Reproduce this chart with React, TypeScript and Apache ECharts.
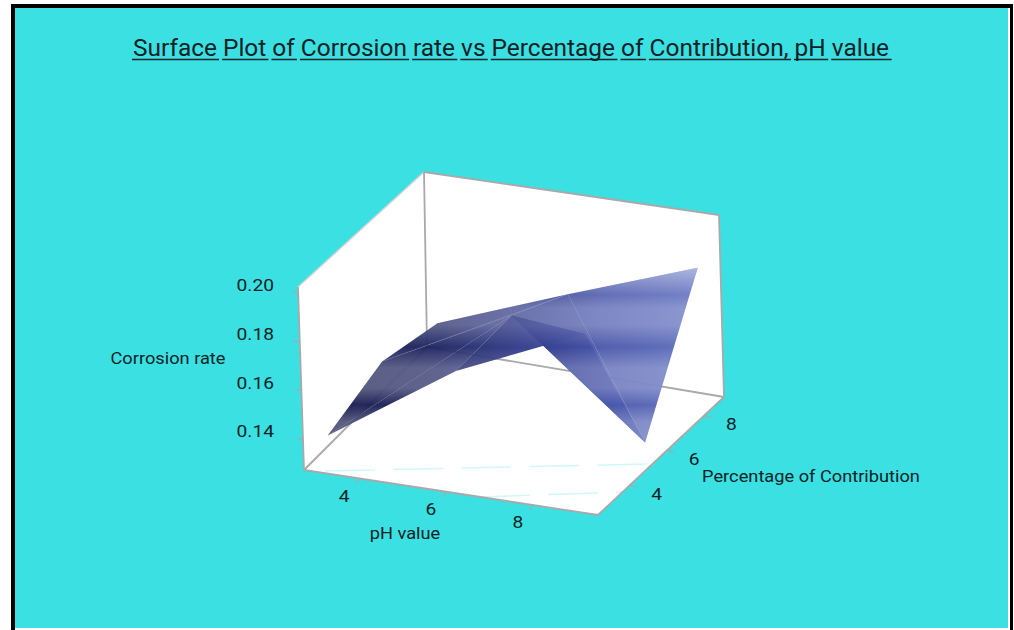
import React, { useEffect, useRef } from "react";
import * as echarts from "echarts";

const titleText = "Surface Plot of Corrosion rate vs Percentage of Contribution, pH value";
const phValues = [3, 6, 9];
const contributionValues = [3, 6, 9];
// rows: pH value, columns: percentage of contribution
const corrosionPh3 = [0.137, 0.1453, 0.1387];
const corrosionPh6 = [0.171, 0.1726, 0.16];
const corrosionPh9 = [0.193, 0.129, 0.1795];
const phTicks = [4, 6, 8];
const contributionTicks = [4, 6, 8];
const rateTicks = ["0.14", "0.16", "0.18", "0.20"];
const axisNames = ["pH value", "Percentage of Contribution", "Corrosion rate"];

const PH_RANGE = [2.73, 9.5];
const CON_RANGE = [2.3, 9.05];
const RATE_RANGE = [0.1273, 0.2022];

// Screen position of the eight corners of the plotting box
const CORNERS = {
  floor: { fl: [304, 470], fr: [598, 515], bl: [427, 347], br: [724, 397] },
  top: { fl: [298, 287], fr: [593, 325], bl: [424, 172], br: [719, 215] },
};

function project(ph: number, con: number, rate: number): number[] {
  const u = (ph - PH_RANGE[0]) / (PH_RANGE[1] - PH_RANGE[0]);
  const v = (con - CON_RANGE[0]) / (CON_RANGE[1] - CON_RANGE[0]);
  const w = (rate - RATE_RANGE[0]) / (RATE_RANGE[1] - RATE_RANGE[0]);
  const bil = (c: any, k: number) =>
    (1 - u) * (1 - v) * c.fl[k] + u * (1 - v) * c.fr[k] + (1 - u) * v * c.bl[k] + u * v * c.br[k];
  return [0, 1].map((k) => (1 - w) * bil(CORNERS.floor, k) + w * bil(CORNERS.top, k));
}

const rates = [corrosionPh3, corrosionPh6, corrosionPh9];
// triangles as [pH index, contribution index] triples, painted back to front
const triangles = [
  [[0, 1], [1, 2], [0, 2]],
  [[0, 1], [1, 1], [1, 2]],
  [[1, 1], [2, 1], [1, 2]],
  [[2, 1], [2, 2], [1, 2]],
  [[1, 1], [2, 0], [2, 1]],
  [[0, 0], [1, 0], [1, 1]],
  [[0, 0], [1, 1], [0, 1]],
  [[1, 0], [2, 0], [1, 1]],
];
// how much of the sheen each triangle catches
const triangleSheen = [1, 1, 1, 1, 0.8, 1, 1, 0.65];

const baseFill = () =>
  new echarts.graphic.LinearGradient(328, 0, 700, 0, [
    { offset: 0, color: "rgba(18,22,72,0.94)" },
    { offset: 0.3, color: "rgba(26,33,95,0.94)" },
    { offset: 0.52, color: "rgba(45,55,135,0.94)" },
    { offset: 0.73, color: "rgba(70,84,168,0.94)" },
    { offset: 1, color: "rgba(90,108,190,0.94)" },
  ], true);

const sheenY = [262, 285, 295, 308, 325, 347, 368, 388, 405, 422, 445];
const sheenA = [0.55, 0.24, 0.1, 0.26, 0.26, 0, 0.26, 0.26, 0, 0.26, 0.3];
const sheenFill = () =>
  new echarts.graphic.LinearGradient(0, 262, 0, 445,
    sheenY.map((y, i) => ({ offset: (y - 262) / 183, color: `rgba(255,255,255,${sheenA[i]})` })), true);

const font = "Roboto";
const ink = "#0e2226";
const TITLE_SIZE = 23;
const TITLE_SCALE = 1.063;
const TITLE_LEFT = 133;
const UNDERLINE_Y = 59.5;

function underlineParts(): any[] {
  const ctx = document.createElement("canvas").getContext("2d")!;
  ctx.font = `${TITLE_SIZE}px ${font}`;
  const parts: any[] = [];
  const words = titleText.split(" ");
  let from = 0;
  words.forEach((w) => {
    const start = ctx.measureText(titleText.slice(0, from)).width * TITLE_SCALE;
    const end = ctx.measureText(titleText.slice(0, from + w.length)).width * TITLE_SCALE;
    parts.push({
      type: "line",
      z: 5,
      shape: { x1: TITLE_LEFT + start - 1, y1: UNDERLINE_Y, x2: TITLE_LEFT + end + 2, y2: UNDERLINE_Y },
      style: { stroke: ink, lineWidth: 1.5 },
    });
    from += w.length + 1;
  });
  return parts;
}

export default function App() {
  const ref = useRef<HTMLDivElement>(null);
  useEffect(() => {
    document.body.style.margin = "0";
    document.body.style.overflow = "hidden";
    const chart = echarts.init(ref.current!, null, { renderer: "svg" });
    const pt = (api: any, p: number[]) => api.coord(p);
    const C = CORNERS;
    const poly = (api: any, ps: number[][], style: any) => ({
      type: "polygon",
      shape: { points: ps.map((p) => pt(api, p)) },
      style,
      silent: true,
    });
    const seg = (api: any, a: number[], b: number[], color: string, lineWidth = 1.8, extra: any = {}) => {
      const p = pt(api, a);
      const q = pt(api, b);
      return {
        type: "line",
        shape: { x1: p[0], y1: p[1], x2: q[0], y2: q[1] },
        style: { stroke: color, lineWidth, fill: null, ...extra },
        silent: true,
      };
    };
    const label = (api: any, text: string, p: number[], size: number, sx: number, align = "center") => {
      const q = pt(api, p);
      return {
        type: "text",
        x: q[0],
        y: q[1],
        scaleX: sx,
        style: { text, fontFamily: font, fontSize: size, fill: ink, align, verticalAlign: "middle" },
      };
    };

    const boxGray = "#a9a9a9";
    const option: any = {
      animation: false,
      backgroundColor: "#ffffff",
      grid: { left: 0, right: 0, top: 0, bottom: 0 },
      xAxis: { type: "value", min: 0, max: 1014, show: false },
      yAxis: { type: "value", min: 0, max: 630, inverse: true, show: false },
      graphic: [
        { type: "rect", z: -10, shape: { x: 11, y: 4, width: 1002, height: 4 }, style: { fill: "#000" } },
        { type: "rect", z: -10, shape: { x: 11, y: 4, width: 4, height: 626 }, style: { fill: "#000" } },
        { type: "rect", z: -10, shape: { x: 1010, y: 4, width: 3, height: 626 }, style: { fill: "#000" } },
        { type: "rect", z: -10, shape: { x: 15, y: 8, width: 993, height: 620 }, style: { fill: "#3be0e2" } },
        {
          type: "text",
          z: 5,
          x: TITLE_LEFT,
          y: 48,
          scaleX: TITLE_SCALE,
          style: { text: titleText, fontFamily: font, fontSize: TITLE_SIZE, fill: ink, align: "left", verticalAlign: "middle" },
        },
        ...underlineParts(),
      ],
      series: [
        {
          // plotting box behind the surface
          type: "custom",
          coordinateSystem: "cartesian2d",
          z: 2,
          clip: false,
          data: [[0, 0]],
          renderItem: (_p: any, api: any) => ({
            type: "group",
            children: [
              poly(api, [C.floor.fl, C.top.fl, C.top.bl, C.top.br, C.floor.br, C.floor.fr], { fill: "#ffffff" }),
              seg(api, [325, 471], [650, 464], "#d2f7f9", 1.5, { lineDash: [50, 18] }),
              seg(api, [480, 497], [623, 492], "#d2f7f9", 1.5, { lineDash: [50, 18] }),
              seg(api, C.top.fl, C.top.bl, "#d4d4d4", 1.4),
              seg(api, C.top.bl, C.top.br, boxGray),
              seg(api, C.top.br, C.floor.br, boxGray),
              seg(api, C.top.bl, C.floor.bl, boxGray),
              seg(api, C.top.fl, C.floor.fl, boxGray),
              seg(api, C.floor.fl, C.floor.fr, boxGray),
              seg(api, C.floor.fr, C.floor.br, boxGray),
              seg(api, C.floor.fl, C.floor.bl, boxGray),
              seg(api, C.floor.bl, C.floor.br, boxGray),
            ],
          }),
        },
        {
          // surface
          type: "custom",
          coordinateSystem: "cartesian2d",
          z: 3,
          clip: false,
          data: triangles.map((_, i) => [i, 0]),
          renderItem: (p: any, api: any) => {
            const tri = triangles[p.dataIndex].map(([a, b]) =>
              project(phValues[a], contributionValues[b], rates[a][b]));
            return {
              type: "group",
              children: [
                poly(api, tri, { fill: baseFill() }),
                poly(api, tri, { fill: sheenFill(), opacity: triangleSheen[p.dataIndex] }),
              ],
            };
          },
        },
        {
          // ticks and labels
          type: "custom",
          coordinateSystem: "cartesian2d",
          z: 4,
          clip: false,
          data: [[0, 0]],
          renderItem: (_p: any, api: any) => {
            const children: any[] = [];
            phTicks.forEach((t) => {
              const a = project(t, CON_RANGE[0], RATE_RANGE[0]);
              children.push(seg(api, a, [a[0] - 3, a[1] + 5], boxGray, 1.2));
              children.push(label(api, String(t), [a[0] - 15, a[1] + 18], 16, 1.2));
            });
            contributionTicks.forEach((t) => {
              const a = project(PH_RANGE[1], t, RATE_RANGE[0]);
              children.push(seg(api, a, [a[0] + 7, a[1] + 2.5], boxGray, 1.2));
              children.push(label(api, String(t), [a[0] + 27, a[1] + 9], 16, 1.2));
            });
            rateTicks.forEach((t) => {
              const a = project(PH_RANGE[0], CON_RANGE[0], Number(t));
              children.push(seg(api, a, [a[0] - 6, a[1]], boxGray, 1.2));
              children.push(label(api, t, [274, a[1] - 7], 16, 1.2, "right"));
            });
            children.push(label(api, axisNames[0], [405, 533], 16, 1.14));
            children.push(label(api, axisNames[1], [811, 476], 16, 1.14));
            children.push(label(api, axisNames[2], [168, 358], 16, 1.14));
            return { type: "group", children };
          },
        },
      ],
    };
    chart.setOption(option);
    return () => chart.dispose();
  }, []);
  return <div ref={ref} style={{ position: "absolute", left: 0, top: 0, width: 1014, height: 630 }} />;
}
